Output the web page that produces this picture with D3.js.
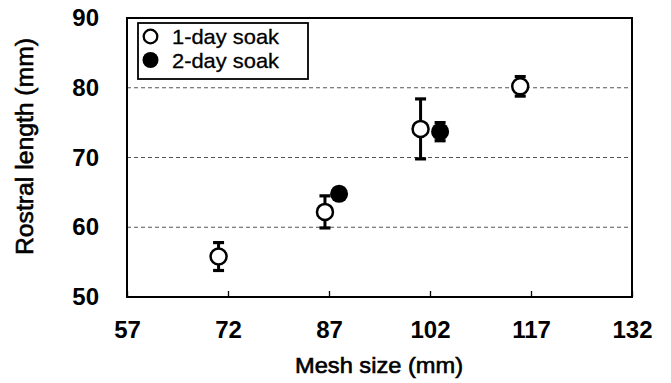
<!DOCTYPE html>
<html>
<head>
<meta charset="utf-8">
<script src="https://cdn.jsdelivr.net/npm/d3@7"></script>
<style>
  html, body { margin: 0; padding: 0; background: #fff; }
  svg { display: block; }
  text { font-family: "Liberation Sans", Arial, sans-serif; fill: #000; }
</style>
</head>
<body>
<svg id="chart" width="671" height="383"></svg>
<script>
// Rostral length by mesh size for two soak durations (mean ± error)
const meshTicks = [57, 72, 87, 102, 117, 132];
const lengthTicks = [50, 60, 70, 80, 90];
const gridValues = [60, 70, 80];

const soak1Mesh = [70.6, 86.4, 100.6, 115.4];
const soak1Mean = [55.8, 62.2, 74.1, 80.2];
const soak1Err  = [2.0, 2.3, 4.3, 1.4];

const soak2Mesh = [88.5, 103.5];
const soak2Mean = [64.8, 73.7];
const soak2Err  = [0.8, 1.3];

const seriesNames = ["1-day soak", "2-day soak"];

const margin = { left: 127, top: 18, right: 39, bottom: 86 };
const W = 671, H = 383;
const iw = W - margin.left - margin.right;
const ih = H - margin.top - margin.bottom;

const svg = d3.select("#chart");
const g = svg.append("g").attr("transform", `translate(${margin.left},${margin.top})`);

const x = d3.scaleLinear().domain([57, 132]).range([0, iw]);
const y = d3.scaleLinear().domain([50, 90]).range([ih, 0]);

// dashed reference lines
g.selectAll("line.grid").data(gridValues).join("line")
  .attr("class", "grid")
  .attr("x1", 0).attr("x2", iw)
  .attr("y1", d => y(d)).attr("y2", d => y(d))
  .attr("stroke", "#555").attr("stroke-width", 1)
  .attr("stroke-dasharray", "4,3");

// x axis: inward ticks, labels below
const xAxis = d3.axisBottom(x).tickValues(meshTicks).tickSize(-6).tickPadding(24).tickFormat(d3.format("d"));
const xg = g.append("g").attr("transform", `translate(0,${ih})`).call(xAxis);
xg.select(".domain").remove();
xg.selectAll(".tick line").attr("stroke", "#000").attr("stroke-width", 1.3);
xg.selectAll(".tick text")
  .attr("font-size", 24).attr("font-weight", "bold")
  .attr("font-family", "'Liberation Sans', Arial, sans-serif")
  .attr("fill", "#000");

// y axis: labels only
const yAxis = d3.axisLeft(y).tickValues(lengthTicks).tickSize(0).tickPadding(28).tickFormat(d3.format("d"));
const yg = g.append("g").call(yAxis);
yg.select(".domain").remove();
yg.selectAll(".tick text")
  .attr("font-size", 24).attr("font-weight", "bold")
  .attr("font-family", "'Liberation Sans', Arial, sans-serif")
  .attr("fill", "#000");

// plot frame
g.append("rect").attr("x", 0).attr("y", 0).attr("width", iw).attr("height", ih)
  .attr("fill", "none").attr("stroke", "#000").attr("stroke-width", 2);

// error bars
function errorBars(meshes, means, errs) {
  const data = meshes.map((m, i) => ({ m, v: means[i], e: errs[i] }));
  const eg = g.append("g");
  eg.selectAll("line.stem").data(data).join("line")
    .attr("x1", d => x(d.m)).attr("x2", d => x(d.m))
    .attr("y1", d => y(d.v + d.e)).attr("y2", d => y(d.v - d.e))
    .attr("stroke", "#000").attr("stroke-width", 3);
  [1, -1].forEach(s => {
    eg.selectAll(null).data(data).join("line")
      .attr("x1", d => x(d.m) - 5.5).attr("x2", d => x(d.m) + 5.5)
      .attr("y1", d => y(d.v + s * d.e)).attr("y2", d => y(d.v + s * d.e))
      .attr("stroke", "#000").attr("stroke-width", 3.2);
  });
}
errorBars(soak1Mesh, soak1Mean, soak1Err);
errorBars(soak2Mesh, soak2Mean, soak2Err);

// markers
g.append("g").selectAll("circle").data(soak1Mesh.map((m, i) => [m, soak1Mean[i]])).join("circle")
  .attr("cx", d => x(d[0])).attr("cy", d => y(d[1])).attr("r", 8)
  .attr("fill", "#fff").attr("stroke", "#000").attr("stroke-width", 2.5);
g.append("g").selectAll("circle").data(soak2Mesh.map((m, i) => [m, soak2Mean[i]])).join("circle")
  .attr("cx", d => x(d[0])).attr("cy", d => y(d[1])).attr("r", 9)
  .attr("fill", "#000");

// legend
const lg = svg.append("g").attr("transform", "translate(138,23)");
lg.append("rect").attr("x", 0).attr("y", 0).attr("width", 170).attr("height", 56)
  .attr("fill", "#fff").attr("stroke", "#000").attr("stroke-width", 1.8);
seriesNames.forEach((name, i) => {
  const cy = 13.5 + i * 23.5;
  lg.append("circle").attr("cx", 12.5).attr("cy", cy).attr("r", i === 0 ? 6.8 : 8)
    .attr("fill", i === 0 ? "#fff" : "#000")
    .attr("stroke", "#000").attr("stroke-width", i === 0 ? 2.3 : 0);
  lg.append("text").attr("x", 34).attr("y", cy + 7.5)
    .attr("font-size", 21)
    .attr("stroke", "#000").attr("stroke-width", 0.3)
    .attr("textLength", 107).attr("lengthAdjust", "spacingAndGlyphs")
    .text(name);
});

// axis titles
svg.append("text").attr("x", 295).attr("y", 373)
  .attr("font-size", 22)
  .attr("stroke", "#000").attr("stroke-width", 0.6)
  .attr("textLength", 168).attr("lengthAdjust", "spacingAndGlyphs")
  .text("Mesh size (mm)");
svg.append("text")
  .attr("transform", "translate(33,255) rotate(-90)")
  .attr("font-size", 23)
  .attr("stroke", "#000").attr("stroke-width", 0.6)
  .attr("textLength", 217).attr("lengthAdjust", "spacingAndGlyphs")
  .text("Rostral length (mm)");
</script>
</body>
</html>
